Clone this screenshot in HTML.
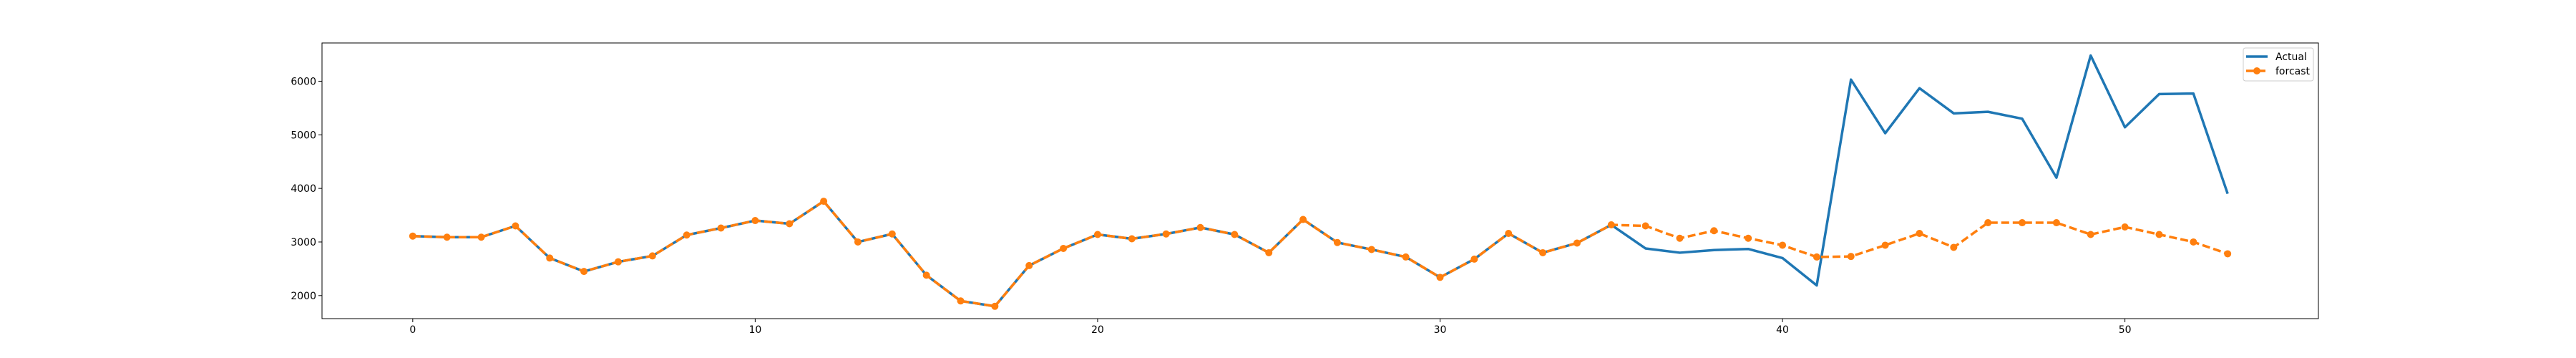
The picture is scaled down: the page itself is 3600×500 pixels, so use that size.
<!DOCTYPE html>
<html><head><meta charset="utf-8">
<style>body{margin:0;background:#fff}svg{display:block}text{font-family:"DejaVu Sans","Liberation Sans",sans-serif}</style>
</head><body>
<svg id="chart" width="3600" height="500" xmlns="http://www.w3.org/2000/svg"></svg>
<script>
const actual=[3110,3090,3090,3300,2700,2450,2630,2740,3130,3260,3400,3340,3760,3000,3150,2380,1900,1800,2560,2880,3140,3060,3150,3270,3140,2800,3420,2990,2860,2720,2340,2680,3160,2800,2980,3320,2880,2800,2850,2870,2700,2190,6030,5030,5870,5400,5430,5300,4200,6480,5140,5760,5770,3900];
const forecast=[3110,3090,3090,3300,2700,2450,2630,2740,3130,3260,3400,3340,3760,3000,3150,2380,1900,1800,2560,2880,3140,3060,3150,3270,3140,2800,3420,2990,2860,2720,2340,2680,3160,2800,2980,3320,3300,3070,3210,3070,2940,2720,2730,2940,3160,2900,3360,3360,3360,3140,3280,3140,3000,2780];
const xTicks=[0,10,20,30,40,50];
const yTicks=[2000,3000,4000,5000,6000];
const L=450,R=3240,T=60,B=445,x0=-2.65,x1=55.65,y0=1570,y1=6714;
const X=v=>L+(v-x0)/(x1-x0)*(R-L), Y=v=>B-(v-y0)/(y1-y0)*(B-T);
const svg=document.getElementById('chart');const NS='http://www.w3.org/2000/svg';
function mk(t,a,p){const e=document.createElementNS(NS,t);for(const k in a)e.setAttribute(k,a[k]);(p||svg).appendChild(e);return e;}
xTicks.forEach(v=>{mk('line',{x1:X(v),x2:X(v),y1:B,y2:B+5,stroke:'#000','stroke-width':1});
const t=mk('text',{x:X(v),y:B+20,'font-size':14,'text-anchor':'middle'});t.textContent=v;

});
yTicks.forEach(v=>{mk('line',{x1:L-5,x2:L,y1:Y(v),y2:Y(v),stroke:'#000','stroke-width':1});
const t=mk('text',{x:L-8,y:Y(v)+5,'font-size':14,'text-anchor':'end'});t.textContent=v;

});
const pa=mk('polyline',{points:actual.map((v,i)=>X(i)+','+Y(v)).join(' '),fill:'none',stroke:'#1f77b4','stroke-width':3.5,'stroke-linejoin':'round'});


const pf=mk('polyline',{points:forecast.map((v,i)=>X(i)+','+Y(v)).join(' '),fill:'none',stroke:'#ff7f0e','stroke-width':3.5,'stroke-dasharray':'11,5'});


forecast.forEach((v,i)=>{const c=mk('circle',{cx:X(i),cy:Y(v),r:5,fill:'#ff7f0e'});

});
const fr=mk('rect',{x:L,y:T,width:R-L,height:B-T,fill:'none',stroke:'#000','stroke-width':1});


const g=mk('g',{});


mk('rect',{x:3135,y:67,width:98,height:46,rx:3,fill:'#fff',stroke:'#ccc','stroke-width':1},g);
mk('line',{x1:3139,x2:3169,y1:79,y2:79,stroke:'#1f77b4','stroke-width':3.5},g);
let t1=mk('text',{x:3180,y:84,'font-size':14},g);t1.textContent='Actual';
mk('line',{x1:3139,x2:3169,y1:99,y2:99,stroke:'#ff7f0e','stroke-width':3.5,'stroke-dasharray':'11,5'},g);
mk('circle',{cx:3154,cy:99,r:5,fill:'#ff7f0e'},g);
let t2=mk('text',{x:3180,y:104,'font-size':14},g);t2.textContent='forcast';
</script>
</body></html>
